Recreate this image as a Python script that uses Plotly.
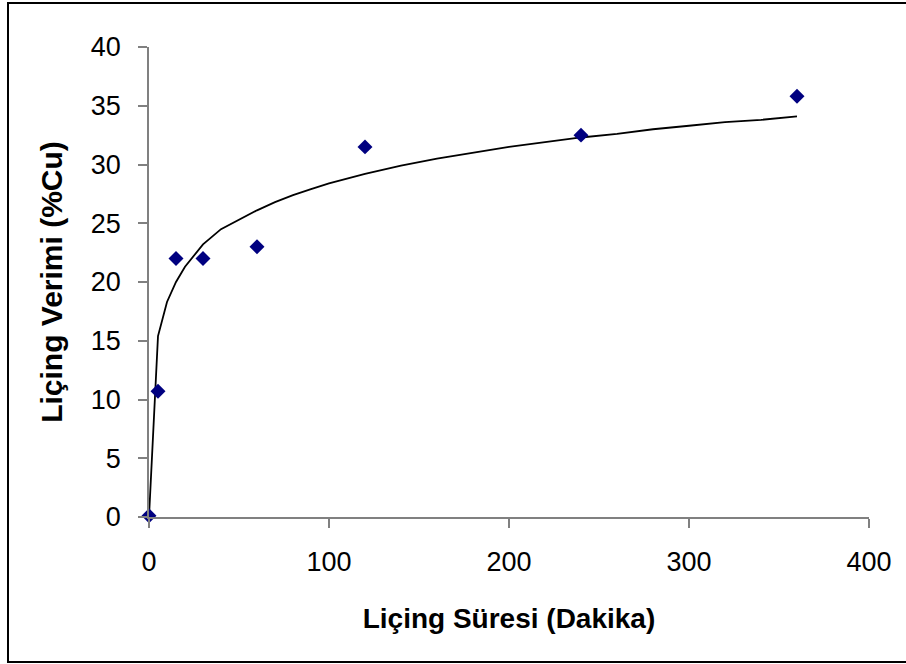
import plotly.graph_objects as go

# Measured points (time in minutes, leaching yield %Cu)
sure = [0, 5, 15, 30, 60, 120, 240, 360]
verim = [0.1, 10.7, 22.0, 22.0, 23.0, 31.5, 32.5, 35.8]

# Trend line
trend_x = [0, 5, 10, 15, 20, 25, 30, 40, 50, 60, 70, 80, 90, 100, 120, 140,
           160, 180, 200, 220, 240, 260, 280, 300, 320, 340, 360]
trend_y = [0.0, 15.4, 18.3, 20.0, 21.3, 22.3, 23.2, 24.5, 25.3, 26.1, 26.8,
           27.4, 27.9, 28.4, 29.2, 29.9, 30.5, 31.0, 31.5, 31.9, 32.3, 32.6,
           33.0, 33.3, 33.6, 33.8, 34.1]

x_ticks = [0, 100, 200, 300, 400]
y_ticks = [0, 5, 10, 15, 20, 25, 30, 35, 40]

fig = go.Figure()
fig.add_trace(go.Scatter(x=trend_x, y=trend_y, mode="lines",
                         line=dict(color="black", width=1.8), showlegend=False,
                         cliponaxis=False))
fig.add_trace(go.Scatter(x=sure, y=verim, mode="markers",
                         marker=dict(symbol="diamond", size=11.5, color="#000080",
                                     line=dict(width=0)),
                         showlegend=False, cliponaxis=False))

L, R, T, B = 149, 37, 47, 147
W, H = 906, 664
pw, ph = W - L - R, H - T - B

def px_to_paper_x(px):
    return (px - L) / pw

def py_to_paper_y(py):
    return (H - B - py) / ph

fig.add_shape(type="rect", xref="paper", yref="paper",
              x0=px_to_paper_x(8), x1=px_to_paper_x(925),
              y0=py_to_paper_y(662), y1=py_to_paper_y(3),
              line=dict(color="black", width=2), fillcolor="rgba(0,0,0,0)",
              layer="below")

font_family = "Liberation Sans, Arial, sans-serif"
fig.update_layout(
    width=W, height=H,
    margin=dict(l=L, r=R, t=T, b=B),
    paper_bgcolor="white", plot_bgcolor="white",
    font=dict(family=font_family, color="black"),
)
fig.update_xaxes(range=[0, 400], tickvals=x_ticks, showgrid=False, zeroline=False,
                 showline=True, linecolor="#808080", linewidth=1.5,
                 ticks="outside", ticklen=9, tickcolor="#808080", tickwidth=1.5,
                 tickfont=dict(size=27), ticklabelstandoff=11,
                 title=dict(text="<b>Liçing Süresi (Dakika)</b>", font=dict(size=28),
                            standoff=32))
fig.update_yaxes(range=[0, 40], tickvals=y_ticks, showgrid=False, zeroline=False,
                 showline=True, linecolor="#808080", linewidth=1.5,
                 ticks="outside", ticklen=9, tickcolor="#808080", tickwidth=1.5,
                 tickfont=dict(size=27), ticklabelstandoff=12,
                 title=dict(text="<b>Liçing Verimi (%Cu)</b>", font=dict(size=30),
                            standoff=19))

fig.write_html("out.html")
